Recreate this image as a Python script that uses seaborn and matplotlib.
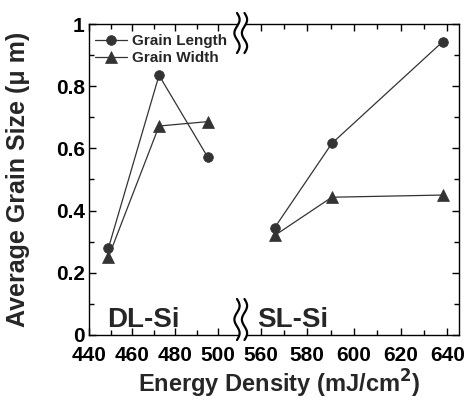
import numpy as np
import pandas as pd
import matplotlib
matplotlib.use("Agg")
import matplotlib.pyplot as plt
import seaborn as sns
from matplotlib.lines import Line2D
from matplotlib.patches import Polygon
from matplotlib.ticker import MultipleLocator, FixedLocator, FixedFormatter

# ---------------- data ----------------
dl_energy = [449, 472.5, 495]
dl_length = [0.279, 0.835, 0.573]
dl_width = [0.250, 0.672, 0.686]
sl_energy = [566, 590.5, 638]
sl_length = [0.345, 0.616, 0.943]
sl_width = [0.320, 0.443, 0.450]
series_labels = ["Grain Length", "Grain Width"]
dl_xticks = [440, 460, 480, 500]
sl_xticks = [560, 580, 600, 620, 640]
y_ticks = [0, 0.2, 0.4, 0.6, 0.8, 1.0]
y_ticklabels = ["0", "0.2", "0.4", "0.6", "0.8", "1"]
region_labels = ["DL-Si", "SL-Si"]

# ---------------- style ----------------
sns.set_theme(style="ticks")
plt.rcParams['font.family'] = ['Liberation Sans', 'DejaVu Sans']
plt.rcParams['font.weight'] = 'bold'
plt.rcParams['axes.linewidth'] = 1.0

W, H = 470, 401
fig = plt.figure(figsize=(W / 100, H / 100), dpi=100)

def fx(px):
    return px / W

def fy(py):
    return 1 - py / H

ax_l = fig.add_axes([fx(89), fy(335), (242 - 89) / W, (335 - 24) / H])
ax_r = fig.add_axes([fx(242), fy(335), (459 - 242) / W, (335 - 24) / H])

col = "#333333"
mk = dict(color=col, linewidth=0.9, markeredgecolor=col, markeredgewidth=0.5)

df_dl = pd.DataFrame({"E": dl_energy, "L": dl_length, "W": dl_width})
df_sl = pd.DataFrame({"E": sl_energy, "L": sl_length, "W": sl_width})

sns.lineplot(data=df_dl, x="E", y="L", marker="o", markersize=7, ax=ax_l,
             label=series_labels[0], **mk)
sns.lineplot(data=df_dl, x="E", y="W", marker="^", markersize=8, ax=ax_l,
             label=series_labels[1], **mk)
sns.lineplot(data=df_sl, x="E", y="L", marker="o", markersize=7, ax=ax_r,
             legend=False, **mk)
sns.lineplot(data=df_sl, x="E", y="W", marker="^", markersize=8, ax=ax_r,
             legend=False, **mk)

for ax in (ax_l, ax_r):
    ax.set_ylim(0, 1.0)
    ax.set_xlabel("")
    ax.set_ylabel("")
    ax.yaxis.set_major_locator(FixedLocator(y_ticks))
    ax.yaxis.set_minor_locator(MultipleLocator(0.1))
    ax.xaxis.set_minor_locator(MultipleLocator(10))
    ax.tick_params(which="both", direction="in", top=True, width=1.0, colors="black")
    ax.tick_params(which="major", length=5)
    ax.tick_params(which="minor", length=3.5)
    ax.tick_params(axis="x", which="major", labelsize=15, pad=8)
    for s in ax.spines.values():
        s.set_color("black")

ax_l.set_xlim(440, 511)
ax_l.xaxis.set_major_locator(FixedLocator(dl_xticks))
ax_l.set_yticks(y_ticks)
ax_l.yaxis.set_major_formatter(FixedFormatter(y_ticklabels))
ax_l.tick_params(axis="y", which="both", left=True, right=False, labelsize=15, pad=3)
ax_l.spines["right"].set_visible(False)

ax_r.set_xlim(552, 645)
ax_r.xaxis.set_major_locator(FixedLocator(sl_xticks))
ax_r.tick_params(axis="y", which="both", left=False, right=True, labelleft=False)
ax_r.spines["left"].set_visible(False)

for ax in (ax_l, ax_r):
    for t in ax.get_xticklabels() + ax.get_yticklabels():
        t.set_fontweight("bold")

# region labels
ax_l.text(0.118, 0.027, region_labels[0], transform=ax_l.transAxes, fontsize=20,
          fontweight="bold", ha="left", va="baseline")
ax_r.text(0.069, 0.027, region_labels[1], transform=ax_r.transAxes, fontsize=20,
          fontweight="bold", ha="left", va="baseline")

# legend
h, l = ax_l.get_legend_handles_labels()
ax_l.legend(h, l, loc="upper left", bbox_to_anchor=(0.039, 0.968), frameon=False,
            borderpad=0, borderaxespad=0, handlelength=2.1, handletextpad=0.3,
            labelspacing=0.22, prop=dict(size=11, weight="bold"))

# axis labels
ax_l.set_ylabel("Average Grain Size (μ m)", fontsize=18, fontweight="bold")
ax_l.yaxis.set_label_coords(-0.386, 0.5)
fig.text(fx(279), fy(393), "Energy Density (mJ/cm$^{\\mathbf{2}}$)", fontsize=17,
         fontweight="bold", ha="center", va="baseline")

# axis-break wave marks
def wave(cx, y0, y1, amp=2.6, periods=1.5, n=120):
    yy = np.linspace(y0, y1, n)
    xx = cx + amp * np.sin(2 * np.pi * periods * (yy - y0) / (y1 - y0))
    return xx, yy

for (y0, y1) in [(13, 53), (299, 340)]:
    x1, yy = wave(237, y0, y1)
    x2, _ = wave(244.5, y0, y1)
    poly = np.vstack([np.column_stack([fx(x1), fy(yy)]),
                      np.column_stack([fx(x2[::-1]), fy(yy[::-1])])])
    fig.add_artist(Polygon(poly, closed=True, facecolor="white", edgecolor="none",
                           transform=fig.transFigure, zorder=10))
    for xs in (x1, x2):
        fig.add_artist(Line2D(fx(xs), fy(yy), color="black", linewidth=1.6,
                              transform=fig.transFigure, zorder=11))

fig.savefig("out.png", dpi=100)
